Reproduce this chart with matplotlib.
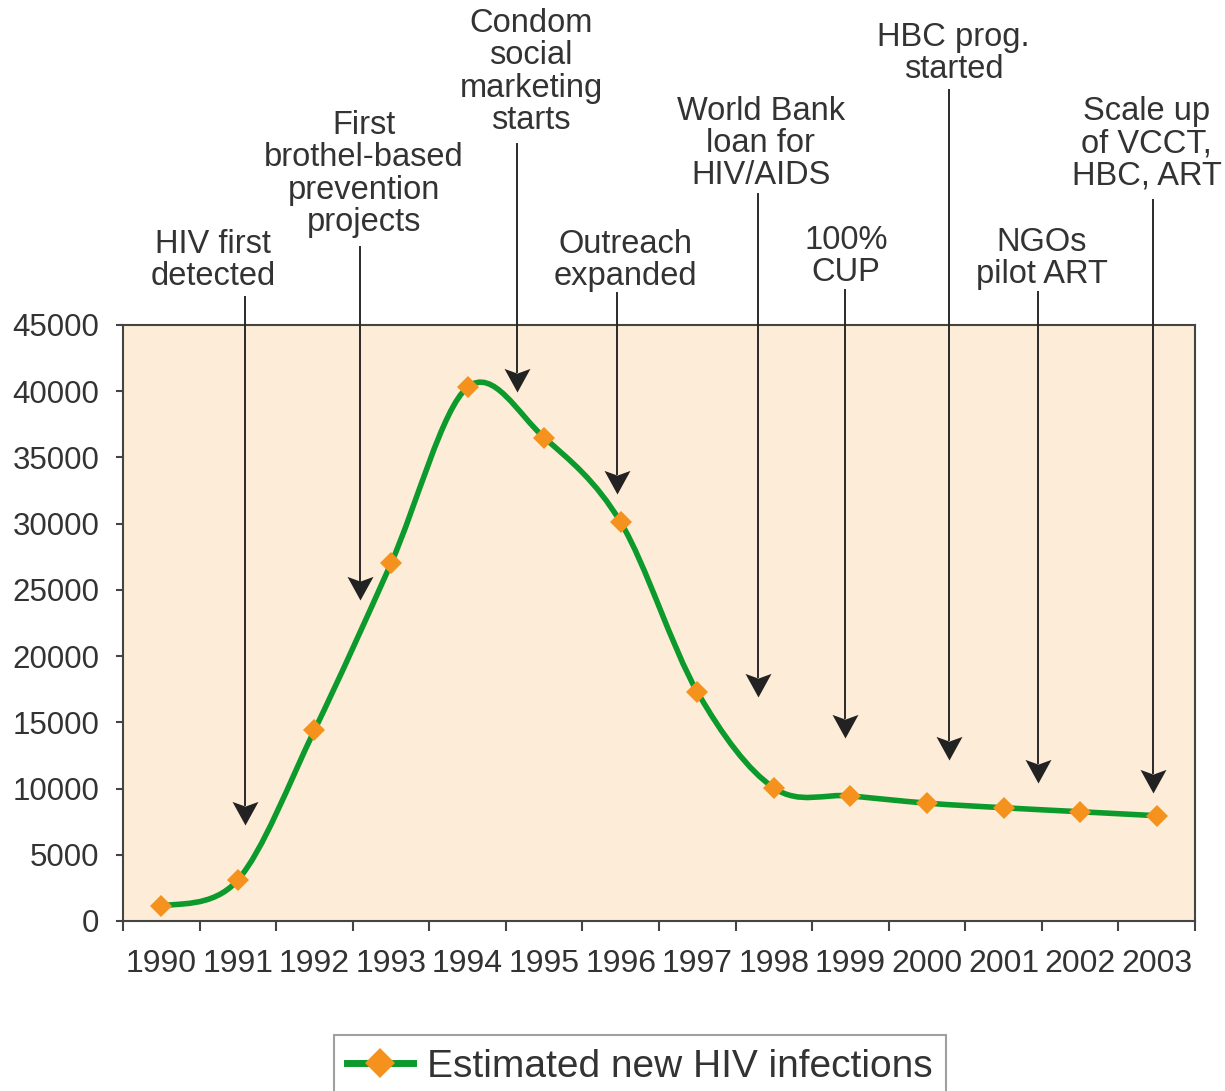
import numpy as np
import matplotlib.pyplot as plt
from matplotlib.path import Path
from matplotlib.patches import PathPatch
from matplotlib.lines import Line2D

plt.rcParams['font.family'] = ['Liberation Sans', 'DejaVu Sans']

# --- data ---
years = ['1990', '1991', '1992', '1993', '1994', '1995', '1996',
         '1997', '1998', '1999', '2000', '2001', '2002', '2003']
new_infections = [1100, 3100, 14400, 27000, 40300, 36500, 30100,
                  17300, 10050, 9450, 8900, 8550, 8250, 7950]

events = ['HIV first\ndetected',
          'First\nbrothel-based\nprevention\nprojects',
          'Condom\nsocial\nmarketing\nstarts',
          'Outreach\nexpanded',
          'World Bank\nloan for\nHIV/AIDS',
          '100%\nCUP',
          'HBC prog.\nstarted',
          'NGOs\npilot ART',
          'Scale up\nof VCCT,\nHBC, ART']

# layout of the annotations: text x, text y, arrow x, arrow top, arrow tip
layout = [(0.68, 49900, 1.09, 47100, 7250),
          (2.65, 56400, 2.60, 50900, 24200),
          (4.83, 64100, 4.65, 58700, 39950),
          (6.06, 49900, 5.95, 47400, 32250),
          (7.83, 58700, 7.79, 54900, 16900),
          (8.94, 50200, 8.93, 47650, 13800),
          (10.35, 65500, 10.29, 62750, 12150),
          (11.50, 50050, 11.45, 47500, 10400),
          (12.87, 58700, 12.95, 54450, 9650)]

green = '#0c9a2c'
orange = '#f5921e'
txt = '#333333'

# notched arrow head, tip at the origin
head = Path([(0, 0), (-0.55, 1), (0, 0.8), (0.55, 1), (0, 0)],
            [Path.MOVETO, Path.LINETO, Path.LINETO, Path.LINETO, Path.CLOSEPOLY])

fig = plt.figure(figsize=(12.25, 10.91), dpi=100)
ax = fig.add_axes([123/1225, 1 - 921/1091, (1195-123)/1225, (921-325)/1091])
ax.set_facecolor('#fdecd7')

x = np.arange(len(years))
y = np.array(new_infections, dtype=float)

# smoothed line (cardinal bezier like a spreadsheet "smoothed line")
pts = np.column_stack([x, y])
verts = [pts[0]]
codes = [Path.MOVETO]
n = len(pts)
for i in range(n - 1):
    p0 = pts[max(i - 1, 0)]
    p1 = pts[i]
    p2 = pts[i + 1]
    p3 = pts[min(i + 2, n - 1)]
    c1 = p1 + (p2 - p0) / 6
    c2 = p2 - (p3 - p1) / 6
    verts += [c1, c2, p2]
    codes += [Path.CURVE4] * 3
ax.add_patch(PathPatch(Path(verts, codes), fill=False, edgecolor=green,
                       lw=4, capstyle='round', zorder=3))
ax.plot(x, y, linestyle='none', marker='D', markersize=11,
        color=orange, markeredgewidth=0, zorder=4)

ax.set_xlim(-0.5, len(years) - 0.5)
ax.set_ylim(0, 45000)
ax.set_yticks(np.arange(0, 45001, 5000))
ax.set_yticklabels([str(v) for v in range(0, 45001, 5000)])
ax.set_xticks(np.arange(-0.5, len(years), 1.0))
ax.set_xticklabels([])
ax.set_xticks(x, minor=True)
ax.set_xticklabels(years, minor=True)
ax.tick_params(axis='x', which='major', length=7, width=1.5, color='#444444')
ax.tick_params(axis='x', which='minor', length=0, pad=20,
               labelsize=23, labelcolor=txt)
ax.tick_params(axis='y', length=5, width=1.5, color='#444444',
               labelsize=22.5, labelcolor=txt, pad=12)
for s in ax.spines.values():
    s.set_color('#444444')
    s.set_linewidth(1.5)

for label, (tx, ty, axx, top, tip) in zip(events, layout):
    ax.text(tx, ty, label, ha='center', va='center', fontsize=23.5,
            color=txt, linespacing=1.05, clip_on=False)
    ax.plot([axx, axx], [top, tip + 1500], color='#2a2a2a', lw=1.4,
            clip_on=False, zorder=5)
    ax.plot([axx], [tip], linestyle='none', marker=head, markersize=34,
            color='#222222', markeredgewidth=0, clip_on=False, zorder=5)

handle = Line2D([], [], color=green, lw=5, marker='D', markersize=15,
                markerfacecolor=orange, markeredgewidth=0)
leg = fig.legend([handle], ['Estimated new HIV infections'],
                 loc='upper center', bbox_to_anchor=(640/1225, 1 - 1035/1091),
                 borderaxespad=0, fontsize=28, frameon=True, fancybox=False,
                 edgecolor='#888888', handlelength=1.7, handletextpad=0.35,
                 borderpad=0.35, labelcolor=txt)
leg.get_frame().set_linewidth(1.5)

fig.savefig('out.png', dpi=100)
